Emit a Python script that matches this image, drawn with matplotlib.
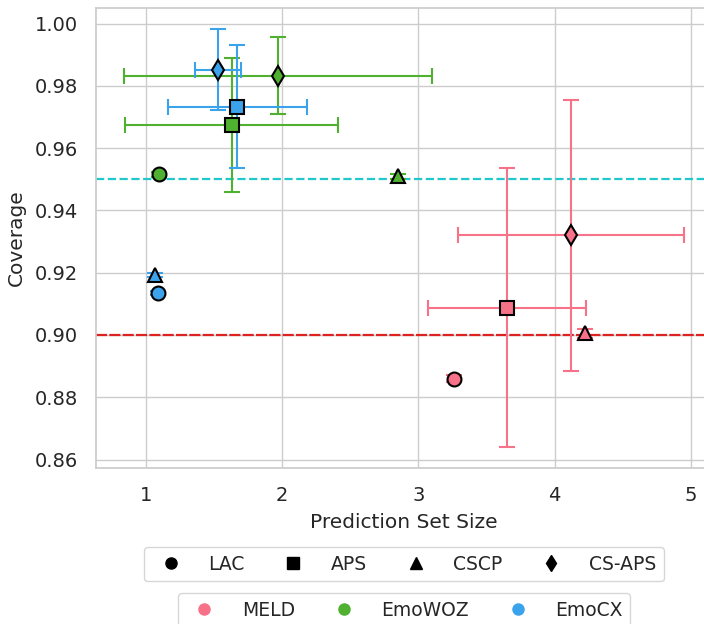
import matplotlib
matplotlib.use("Agg")
import matplotlib.pyplot as plt
from matplotlib.lines import Line2D
import seaborn as sns

datasets = ["MELD", "EmoWOZ", "EmoCX"]
methods = ["LAC", "APS", "CSCP", "CS-APS"]
markers = {"LAC": "o", "APS": "s", "CSCP": "^", "CS-APS": "d"}

# mean set size and coverage, per dataset, in the order of methods
set_size = {
    "MELD": [3.26, 3.65, 4.22, 4.12],
    "EmoWOZ": [1.10, 1.63, 2.85, 1.97],
    "EmoCX": [1.09, 1.67, 1.07, 1.53],
}
coverage = {
    "MELD": [0.886, 0.9088, 0.9005, 0.932],
    "EmoWOZ": [0.9516, 0.9673, 0.951, 0.9833],
    "EmoCX": [0.9136, 0.9733, 0.9193, 0.9852],
}
# half widths of the error bars
size_err = {
    "MELD": [0.0, 0.58, 0.0, 0.83],
    "EmoWOZ": [0.0, 0.78, 0.0, 1.13],
    "EmoCX": [0.0, 0.51, 0.0, 0.17],
}
cov_err = {
    "MELD": [0.001, 0.0448, 0.0015, 0.0436],
    "EmoWOZ": [0.0008, 0.0215, 0.0008, 0.0124],
    "EmoCX": [0.0006, 0.0197, 0.0006, 0.0131],
}
targets = [0.95, 0.90]

sns.set_theme(style="whitegrid")
plt.rcParams['font.family'] = ['DejaVu Sans']
colors = dict(zip(datasets, sns.color_palette("husl", 3)))

fig = plt.figure(figsize=(7.04, 6.24), dpi=100)
ax = fig.add_axes([96 / 704, 156 / 624, 616 / 704, 460 / 624])

for d in datasets:
    for i, m in enumerate(methods):
        ax.errorbar(set_size[d][i], coverage[d][i],
                    xerr=size_err[d][i] if size_err[d][i] > 0 else None,
                    yerr=cov_err[d][i],
                    fmt=markers[m], color=colors[d], ecolor=colors[d],
                    markersize=10, markeredgecolor="black", markeredgewidth=1.5,
                    elinewidth=1.5, capsize=6, capthick=1.5, zorder=3)

ax.axhline(targets[0], color="#20c8cc", linestyle="--", linewidth=1.6, zorder=2)
ax.axhline(targets[1], color="#dd2222", linestyle=(0, (5, 1)), linewidth=1.6, zorder=2)

ax.set_xlabel("Prediction Set Size", fontsize=14.5, labelpad=6)
ax.set_ylabel("Coverage", fontsize=14.5, labelpad=6)
ax.tick_params(labelsize=14, pad=7)
ax.set_xticks([1, 2, 3, 4, 5])

h1 = [Line2D([], [], marker=markers[m], color="black", linestyle="",
             markersize=8) for m in methods]
leg1 = ax.legend(h1, methods, loc="upper center", bbox_to_anchor=(0.5, -0.152),
                 ncol=4, fontsize=13.5, columnspacing=1.6, handletextpad=1.0)
ax.add_artist(leg1)
h2 = [Line2D([], [], marker="o", color=colors[d], linestyle="",
             markersize=8) for d in datasets]
ax.legend(h2, datasets, loc="upper center", bbox_to_anchor=(0.5, -0.252),
          ncol=3, fontsize=13.5, columnspacing=1.6, handletextpad=1.0)

fig.savefig("out.png", dpi=100)
